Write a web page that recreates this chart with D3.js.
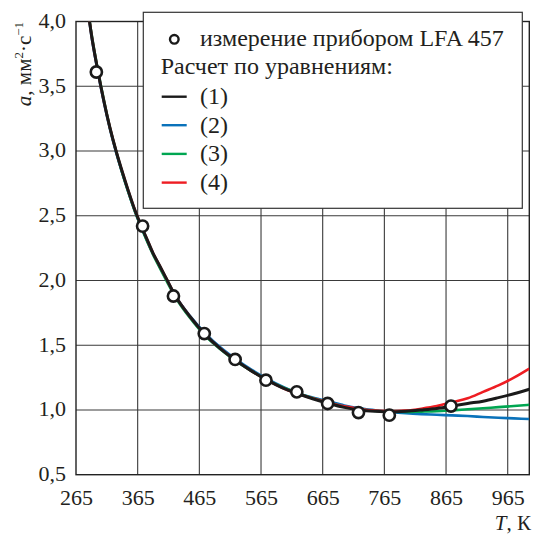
<!DOCTYPE html>
<html><head><meta charset="utf-8">
<script src="https://cdn.jsdelivr.net/npm/d3@7"></script>
<style>
html,body{margin:0;padding:0;background:#fff;}
svg{display:block;}
svg text{font-family:"Liberation Serif","Times New Roman",serif;}
</style></head>
<body><div id="chart"></div>
<script>
// ---- data ----
const xTicks = [265, 365, 465, 565, 665, 765, 865, 965];
const yTicks = [0.5, 1.0, 1.5, 2.0, 2.5, 3.0, 3.5, 4.0];
const yTickLabels = ["0,5", "1,0", "1,5", "2,0", "2,5", "3,0", "3,5", "4,0"];

// measured (LFA 457)
const measT = [298, 373, 423, 473, 523, 573, 623, 673, 723, 773, 873];
const measA = [3.61, 2.42, 1.88, 1.59, 1.39, 1.23, 1.14, 1.05, 0.98, 0.96, 1.03];

// calculated curves
const curveT = [280, 290, 300, 310, 320, 330, 340, 350, 360, 370, 380, 390, 400, 412, 425, 450, 475, 500, 525, 550, 575, 600, 625, 650, 675, 700, 725, 750, 775, 800, 825, 850, 875, 900, 925, 950, 975, 1000];
const eq1 = [4.25, 3.90, 3.63, 3.39, 3.18, 3.00, 2.84, 2.69, 2.55, 2.43, 2.32, 2.21, 2.12, 2.01, 1.89, 1.72, 1.58, 1.47, 1.38, 1.30, 1.23, 1.17, 1.125, 1.085, 1.05, 1.02, 1.0, 0.99, 0.985, 0.99, 1.0, 1.012, 1.03, 1.05, 1.068, 1.095, 1.125, 1.16];
const eq2 = [4.25, 3.89, 3.62, 3.38, 3.17, 2.99, 2.83, 2.68, 2.54, 2.42, 2.31, 2.205, 2.115, 2.005, 1.89, 1.725, 1.59, 1.48, 1.39, 1.31, 1.24, 1.18, 1.13, 1.095, 1.065, 1.035, 1.013, 0.998, 0.985, 0.975, 0.968, 0.963, 0.958, 0.953, 0.946, 0.94, 0.935, 0.93];
const eq3 = [4.25, 3.91, 3.64, 3.40, 3.18, 3.00, 2.83, 2.68, 2.54, 2.42, 2.305, 2.20, 2.105, 1.995, 1.88, 1.71, 1.57, 1.465, 1.375, 1.30, 1.23, 1.175, 1.13, 1.09, 1.055, 1.025, 1.005, 0.993, 0.986, 0.985, 0.987, 0.99, 0.997, 1.005, 1.013, 1.022, 1.03, 1.04];
const eq4 = [4.25, 3.90, 3.63, 3.39, 3.18, 3.00, 2.84, 2.69, 2.55, 2.43, 2.32, 2.21, 2.12, 2.01, 1.89, 1.72, 1.58, 1.47, 1.38, 1.30, 1.23, 1.17, 1.125, 1.088, 1.056, 1.028, 1.008, 0.995, 0.99, 0.995, 1.01, 1.03, 1.06, 1.09, 1.14, 1.19, 1.25, 1.32];

const series = [
  {name: "(2)", values: eq2, color: "#0a72ba", width: 2.6},
  {name: "(3)", values: eq3, color: "#00a651", width: 2.6},
  {name: "(4)", values: eq4, color: "#ee1d23", width: 2.6},
  {name: "(1)", values: eq1, color: "#1a1a1a", width: 3}
];
const legendSeries = ["(1)", "(2)", "(3)", "(4)"];
const legendColors = ["#1a1a1a", "#0a72ba", "#00a651", "#ee1d23"];

// ---- layout ----
const W = 537, H = 536;
const FONT = "Liberation Serif, Times New Roman, serif";
const m = {left: 76, top: 21.5, right: 7.7, bottom: 61.3};
const svg = d3.select("#chart").append("svg").attr("width", W).attr("height", H)
  .attr("font-family", FONT);

const x = d3.scaleLinear().domain([265, 1000]).range([m.left, W - m.right]);
const y = d3.scaleLinear().domain([0.5, 4.0]).range([H - m.bottom, m.top]);

const defs = svg.append("defs");
defs.append("clipPath").attr("id", "clip").append("rect")
  .attr("x", x(265)).attr("y", y(4.0)).attr("width", x(1000) - x(265)).attr("height", y(0.5) - y(4.0));

// grid
const grid = svg.append("g");
grid.selectAll("line.v").data(xTicks.slice(1)).enter().append("line")
  .attr("x1", d => x(d)).attr("x2", d => x(d)).attr("y1", y(0.5)).attr("y2", y(4.0))
  .attr("stroke", "#3a3a3a").attr("stroke-width", 1.1);
grid.selectAll("line.h").data(yTicks.slice(1, -1)).enter().append("line")
  .attr("y1", d => y(d)).attr("y2", d => y(d)).attr("x1", x(265)).attr("x2", x(1000))
  .attr("stroke", "#3a3a3a").attr("stroke-width", 1.1);
svg.append("rect").attr("x", x(265)).attr("y", y(4.0))
  .attr("width", x(1000) - x(265)).attr("height", y(0.5) - y(4.0))
  .attr("fill", "none").attr("stroke", "#222").attr("stroke-width", 1.4);

// axes labels via d3 axes (no lines)
const xAxis = svg.append("g").attr("transform", `translate(0,${y(0.5)})`)
  .call(d3.axisBottom(x).tickValues(xTicks).tickSize(0).tickPadding(0).tickFormat(d => d));
xAxis.attr("font-family", FONT);
xAxis.select(".domain").remove();
xAxis.selectAll("text").attr("font-family", FONT).attr("font-size", 22)
  .attr("fill", "#231f20").attr("dy", null).attr("y", 30);

const yAxis = svg.append("g").attr("transform", `translate(${x(265)},0)`)
  .call(d3.axisLeft(y).tickValues(yTicks).tickSize(0).tickPadding(0).tickFormat((d, i) => yTickLabels[i]));
yAxis.attr("font-family", FONT);
yAxis.select(".domain").remove();
yAxis.selectAll("text").attr("font-family", FONT).attr("font-size", 22)
  .attr("fill", "#231f20").attr("x", -10).attr("dy", null).attr("y", 6);

// curves
const line = d3.line().x((d, i) => x(curveT[i])).y(d => y(d)).curve(d3.curveMonotoneX);
const curves = svg.append("g").attr("clip-path", "url(#clip)");
series.forEach(s => {
  curves.append("path").attr("d", line(s.values)).attr("fill", "none")
    .attr("stroke", s.color).attr("stroke-width", s.width).attr("stroke-linejoin", "round");
});

// points
svg.append("g").selectAll("circle").data(measT).enter().append("circle")
  .attr("cx", d => x(d)).attr("cy", (d, i) => y(measA[i])).attr("r", 5.6)
  .attr("fill", "#fff").attr("stroke", "#1a1a1a").attr("stroke-width", 2.6);

// legend
const lg = svg.append("g");
lg.append("rect").attr("x", 143.3).attr("y", 12.3).attr("width", 379).attr("height", 196)
  .attr("fill", "#fff").attr("stroke", "#333").attr("stroke-width", 1.2);
lg.append("circle").attr("cx", 174.3).attr("cy", 39.3).attr("r", 4.3)
  .attr("fill", "#fff").attr("stroke", "#1a1a1a").attr("stroke-width", 2.4);
lg.append("text").attr("x", 200).attr("y", 46).attr("font-size", 24).attr("fill", "#231f20")
  .text("измерение прибором LFA 457");
lg.append("text").attr("x", 160.7).attr("y", 74).attr("font-size", 24).attr("fill", "#231f20")
  .text("Расчет по уравнениям:");
const rowsY = [96.7, 125.2, 153.9, 182.6];
legendSeries.forEach((nm, i) => {
  lg.append("line").attr("x1", 161.7).attr("x2", 186.7).attr("y1", rowsY[i]).attr("y2", rowsY[i])
    .attr("stroke", legendColors[i]).attr("stroke-width", 2.4);
  lg.append("text").attr("x", 200).attr("y", rowsY[i] + 7.5).attr("font-size", 24).attr("fill", "#231f20").text(nm);
});

// axis titles
const xt = svg.append("text").attr("x", 531).attr("y", 530).attr("text-anchor", "end")
  .attr("font-size", 21).attr("fill", "#231f20");
xt.append("tspan").attr("font-style", "italic").text("T");
xt.append("tspan").text(", К");

const yt = svg.append("text").attr("transform", "translate(31,64) rotate(-90)")
  .attr("text-anchor", "middle").attr("font-size", 21).attr("fill", "#231f20");
yt.append("tspan").attr("font-style", "italic").text("a");
yt.append("tspan").text(", мм");
yt.append("tspan").attr("font-size", 13).attr("dy", -8).text("2");
yt.append("tspan").attr("dy", 8).text("·с");
yt.append("tspan").attr("font-size", 13).attr("dy", -8).text("−1");
</script></body></html>
